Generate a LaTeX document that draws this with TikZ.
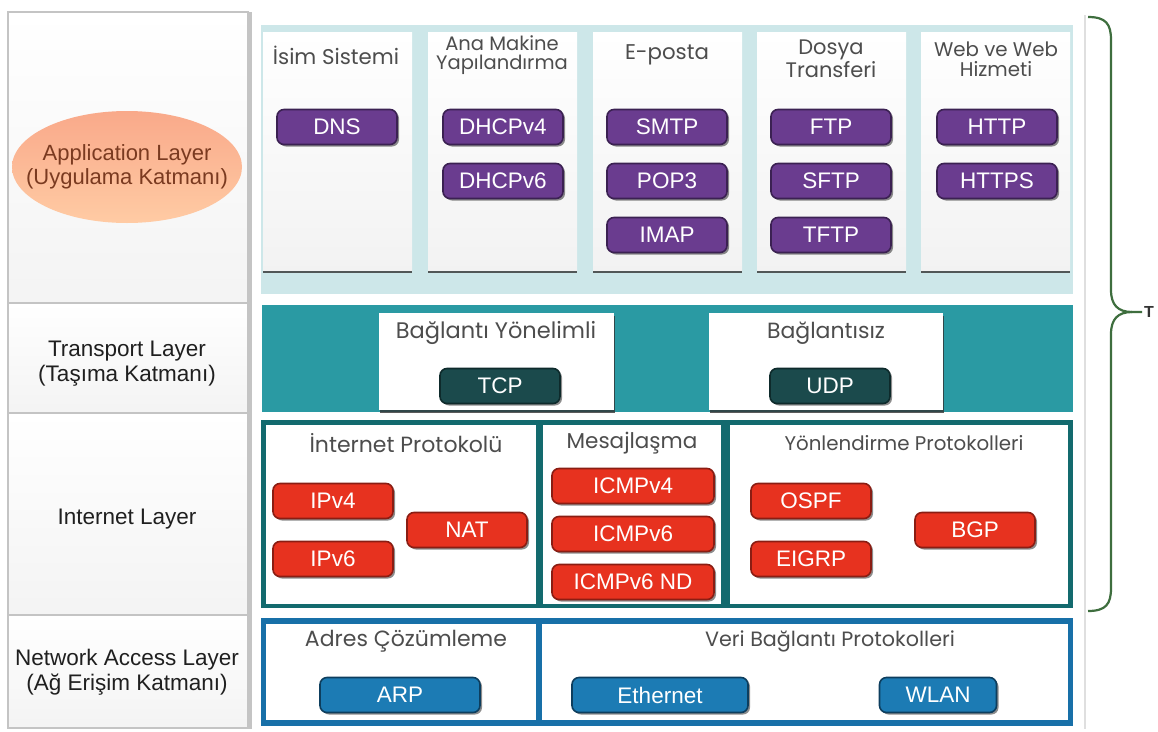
\documentclass[tikz,border=0pt]{standalone}
\usepackage{fontspec}
\setmainfont{Liberation Sans}
\newfontfamily\titlefont{Poppins}
\usetikzlibrary{shadows,shapes.geometric}
\definecolor{appbg}{HTML}{CDE7E9}
\definecolor{purplebtn}{HTML}{6A3C8F}
\definecolor{purpleedge}{HTML}{3B2152}
\definecolor{transteal}{HTML}{2A9AA3}
\definecolor{tcpfill}{HTML}{1B4A4C}
\definecolor{tcpedge}{HTML}{0E2A2B}
\definecolor{inetteal}{HTML}{136A6E}
\definecolor{redbtn}{HTML}{E7321F}
\definecolor{rededge}{HTML}{8A1D13}
\definecolor{netblue}{HTML}{1870A8}
\definecolor{bluebtn}{HTML}{1C7BB4}
\definecolor{blueedge}{HTML}{0D3E5E}
\definecolor{titlegray}{HTML}{4D4D4D}
\definecolor{ellipsetop}{HTML}{F9A98A}
\definecolor{ellipsebot}{HTML}{FFCBA4}
\definecolor{ellipsetext}{HTML}{7A3A20}
\definecolor{bracegreen}{HTML}{3E6E3E}
\definecolor{cellgray}{HTML}{C4C4C4}
\begin{document}
\begin{tikzpicture}[x=1pt,y=-1pt,
  box/.style={anchor=north west,inner sep=0pt,outer sep=0pt},
  layercell/.style={box,draw=cellgray,line width=2pt,top color=white,bottom color=gray!9,minimum width=240pt},
  layerlbl/.style={align=center,font=\fontsize{22.5}{25}\selectfont,text=black!88},
  appcol/.style={box,top color=white,bottom color=gray!10,minimum width=149pt,minimum height=238pt,
    drop shadow={shadow xshift=0pt,shadow yshift=-3pt,opacity=0.8,fill=black!80}},
  whitebox/.style={box,fill=white,drop shadow={shadow xshift=1pt,shadow yshift=-3pt,opacity=0.8,fill=black!80}},
  inbox/.style={box,fill=white},
  ttl/.style={align=center,text=titlegray,font=\titlefont\fontsize{21.5}{21}\selectfont},
  ttlsmall/.style={align=center,text=titlegray,font=\titlefont\fontsize{19.5}{18.5}\selectfont},
  btn/.style={rounded corners=7pt,line width=1.6pt,minimum height=35pt,inner sep=0pt,text=white,
    font=\fontsize{22.5}{22}\selectfont,
    drop shadow={shadow xshift=2pt,shadow yshift=-2pt,opacity=0.45,fill=black}},
  pbtn/.style={btn,fill=purplebtn,draw=purpleedge,minimum width=120pt},
  tbtn/.style={btn,fill=tcpfill,draw=tcpedge,minimum width=120pt},
  rbtn/.style={btn,fill=redbtn,draw=rededge,minimum width=120pt},
  bbtn/.style={btn,fill=bluebtn,draw=blueedge,minimum width=120pt}
]
\useasboundingbox (0,0) rectangle (1158,731);
\fill[white] (0,0) rectangle (1158,731);

% ---------- left column ----------
\node[layercell,minimum height=291pt] (cellA) at (8,12) {};
\node[layercell,minimum height=110pt] (cellB) at (8,303) {};
\node[layercell,minimum height=202pt] (cellC) at (8,413) {};
\node[layercell,minimum height=113pt] (cellD) at (8,615) {};
\draw[cellgray,line width=3pt] (250,12) -- (250,729);
\draw[gray!25,line width=1.2pt] (1085,15) -- (1085,729);

\node[ellipse,minimum width=230pt,minimum height=112pt,top color=ellipsetop,bottom color=ellipsebot,
  inner sep=0pt] (ellA) at (127,167) {};
\node[align=center,text=ellipsetext,font=\fontsize{22}{24}\selectfont] (lblA) at (ellA.center)
  {Application Layer\\(Uygulama Katmanı)};
\node[layerlbl] (lblB) at (127,364) {Transport Layer\\(Taşıma Katmanı)};
\node[layerlbl] (lblC) at (127,519) {Internet Layer};
\node[layerlbl] (lblD) at (127,672) {Network Access Layer\\(Ağ Erişim Katmanı)};

% ---------- application layer ----------
\node[box,fill=appbg,minimum width=812pt,minimum height=269pt] (appband) at (261,25) {};
\node[appcol] (col1) at (263,32) {};
\node[appcol] (col2) at (428,32) {};
\node[appcol] (col3) at (593,32) {};
\node[appcol] (col4) at (757,32) {};
\node[appcol] (col5) at (921,32) {};

\node[ttl,font=\titlefont\fontsize{21.3}{21}\selectfont] (t1) at (336,55) {İsim Sistemi};
\node[ttlsmall] (t2) at (502,55) {Ana Makine\\Yapılandırma};
\node[ttl,font=\titlefont\fontsize{21.3}{21}\selectfont] (t3) at (667,55) {E-posta};
\node[ttl,font=\titlefont\fontsize{21}{21}\selectfont] (t4) at (831,59) {Dosya\\Transferi};
\node[ttl,font=\titlefont\fontsize{19.8}{20}\selectfont] (t5) at (996,59) {Web ve Web\\Hizmeti};

\node[pbtn] (dns) at (337,127) {DNS};
\node[pbtn] (dhcp4) at (503,127) {DHCPv4};
\node[pbtn] (dhcp6) at (503,181) {DHCPv6};
\node[pbtn] (smtp) at (667,127) {SMTP};
\node[pbtn] (pop3) at (667,181) {POP3};
\node[pbtn] (imap) at (667,235) {IMAP};
\node[pbtn] (ftp) at (831,127) {FTP};
\node[pbtn] (sftp) at (831,181) {SFTP};
\node[pbtn] (tftp) at (831,235) {TFTP};
\node[pbtn] (http) at (997,127) {HTTP};
\node[pbtn] (https) at (997,181) {HTTPS};

% ---------- transport layer ----------
\node[box,fill=transteal,minimum width=811pt,minimum height=107pt] (transband) at (262,305) {};
\node[whitebox,minimum width=235pt,minimum height=97pt] (conn) at (379,313) {};
\node[whitebox,minimum width=234pt,minimum height=97pt] (connless) at (709,313) {};
\node[ttl,font=\titlefont\fontsize{22.5}{21}\selectfont] (t6) at (496,333) {Bağlantı Yönelimli};
\node[ttl,font=\titlefont\fontsize{22}{21}\selectfont] (t7) at (826,333) {Bağlantısız};
\node[tbtn] (tcp) at (500,386) {TCP};
\node[tbtn] (udp) at (830,386) {UDP};

% ---------- internet layer ----------
\node[box,fill=inetteal,minimum width=812pt,minimum height=188pt] (inetband) at (261,420) {};
\node[inbox,minimum width=270pt,minimum height=179pt] (ipbox) at (266,425) {};
\node[inbox,minimum width=178pt,minimum height=179pt] (msgbox) at (543,425) {};
\node[inbox,minimum width=338pt,minimum height=179pt] (routebox) at (730,425) {};
\node[ttl,font=\titlefont\fontsize{22}{21}\selectfont] (t8) at (406,443) {İnternet Protokolü};
\node[ttl] (t9) at (632,443) {Mesajlaşma};
\node[ttlsmall,font=\titlefont\fontsize{19.8}{20}\selectfont] (t10) at (904,443) {Yönlendirme Protokolleri};

\node[rbtn] (ipv4) at (333,501) {IPv4};
\node[rbtn] (ipv6) at (333,559) {IPv6};
\node[rbtn] (nat) at (467,530) {NAT};
\node[rbtn,minimum width=162pt] (icmp4) at (633,486) {ICMPv4};
\node[rbtn,minimum width=162pt] (icmp6) at (633,534) {ICMPv6};
\node[rbtn,minimum width=162pt] (icmpnd) at (633,582) {ICMPv6 ND};
\node[rbtn] (ospf) at (811,501) {OSPF};
\node[rbtn] (eigrp) at (811,559) {EIGRP};
\node[rbtn] (bgp) at (975,530) {BGP};

% ---------- network access layer ----------
\node[box,fill=netblue,minimum width=812pt,minimum height=108pt] (netband) at (261,618) {};
\node[inbox,minimum width=270pt,minimum height=96pt] (arpbox) at (266,624) {};
\node[inbox,minimum width=526pt,minimum height=96pt] (linkbox) at (542,624) {};
\node[ttl,font=\titlefont\fontsize{22}{21}\selectfont] (t11) at (406,641) {Adres Çözümleme};
\node[ttl,font=\titlefont\fontsize{20.7}{21}\selectfont] (t12) at (830,641) {Veri Bağlantı Protokolleri};
\node[bbtn,minimum width=160pt] (arp) at (400,695) {ARP};
\node[bbtn,minimum width=176pt] (eth) at (660,695) {Ethernet};
\node[bbtn,minimum width=117pt] (wlan) at (938,695) {WLAN};

% ---------- brace ----------
\draw[bracegreen,line width=2.2pt]
  (1088,17) .. controls (1106,17) and (1111,24) .. (1111,40) -- (1111,290)
  .. controls (1111,305) and (1118,312) .. (1132,312) -- (1142,312);
\draw[bracegreen,line width=2.2pt]
  (1132,312) .. controls (1118,312) and (1111,319) .. (1111,334) -- (1111,588)
  .. controls (1111,604) and (1106,611) .. (1088,611);
\node[anchor=west,inner sep=0pt,font=\bfseries\fontsize{16}{16}\selectfont,text=black!80] (tlabel) at (1144,312) {T};
\end{tikzpicture}
\end{document}
